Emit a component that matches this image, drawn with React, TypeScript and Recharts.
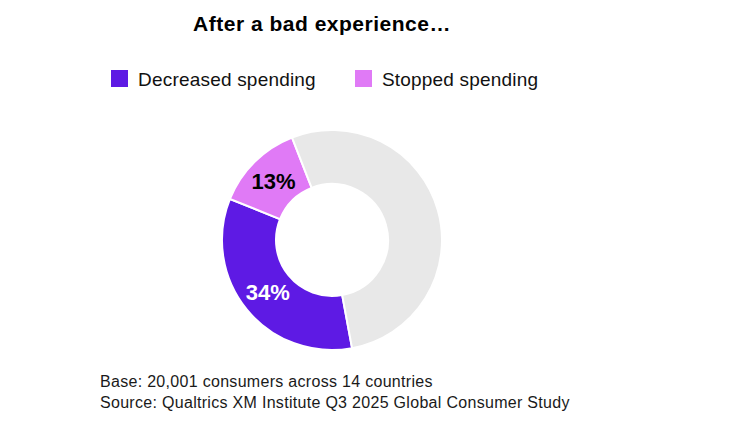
import { PieChart, Pie, Cell } from "recharts";

const categories = ["Decreased spending", "Stopped spending", "Other"];
const shares = [34, 13, 53];
const colors = ["#5e1ae4", "#e07af6", "#e8e8e8"];
const labelColors = ["#ffffff", "#000000", ""];
const legendItems = ["Decreased spending", "Stopped spending"];
const title = "After a bad experience…";
const notes = [
    "Base: 20,001 consumers across 14 countries",
    "Source: Qualtrics XM Institute Q3 2025 Global Consumer Study",
];

const data = categories.map((name, i) => ({ name, value: shares[i] }));

const FONT = '"Liberation Sans", Arial, Helvetica, sans-serif';
const RADIAN = Math.PI / 180;

function renderLabel(props: any) {
    const { cx, cy, midAngle, innerRadius, outerRadius, index, value } = props;
    if (!labelColors[index]) return null;
    const r = (innerRadius + outerRadius) / 2;
    const x = cx + r * Math.cos(-midAngle * RADIAN);
    const y = cy + r * Math.sin(-midAngle * RADIAN);
    return (
        <text
            x={x}
            y={y}
            fill={labelColors[index]}
            textAnchor="middle"
            dominantBaseline="central"
            fontFamily={FONT}
            fontWeight="bold"
            fontSize={22}
        >
            {value}%
        </text>
    );
}

export default function App() {
    return (
        <div
            style={{
                position: "absolute",
                left: 0,
                top: 0,
                width: 732,
                height: 428,
                background: "#fff",
                fontFamily: FONT,
                color: "#000",
            }}
        >
            <div
                style={{
                    position: "absolute",
                    left: 322,
                    top: 13,
                    transform: "translateX(-50%)",
                    whiteSpace: "nowrap",
                    fontSize: 21,
                    lineHeight: "21px",
                    fontWeight: "bold",
                    letterSpacing: 0.5,
                }}
            >
                {title}
            </div>

            <div
                style={{
                    position: "absolute",
                    left: 111,
                    top: 70,
                    display: "flex",
                    gap: 39,
                }}
            >
                {legendItems.map((name, i) => (
                    <div key={name} style={{ display: "flex", alignItems: "flex-start" }}>
                        <div
                            style={{
                                width: 17,
                                height: 17,
                                background: colors[i],
                                marginRight: 10,
                            }}
                        />
                        <div
                            style={{
                                fontSize: 19,
                                lineHeight: "19px",
                                letterSpacing: 0.2,
                                whiteSpace: "nowrap",
                                color: "#111",
                            }}
                        >
                            {name}
                        </div>
                    </div>
                ))}
            </div>

            <div style={{ position: "absolute", left: 0, top: 0 }}>
                <PieChart width={732} height={428} margin={{ top: 0, right: 0, bottom: 0, left: 0 }}>
                    <Pie
                        data={data}
                        dataKey="value"
                        nameKey="name"
                        cx={332}
                        cy={240}
                        innerRadius={56}
                        outerRadius={110}
                        startAngle={280.5}
                        endAngle={-79.5}
                        stroke="#ffffff"
                        strokeWidth={2}
                        label={renderLabel}
                        labelLine={false}
                        isAnimationActive={false}
                    >
                        {data.map((d, i) => (
                            <Cell key={d.name} fill={colors[i]} />
                        ))}
                    </Pie>
                </PieChart>
            </div>

            <div
                style={{
                    position: "absolute",
                    left: 100,
                    top: 372,
                    fontSize: 16,
                    lineHeight: "20.5px",
                    letterSpacing: 0.3,
                    color: "#1a1a1a",
                    whiteSpace: "nowrap",
                }}
            >
                {notes.map((n) => (
                    <div key={n}>{n}</div>
                ))}
            </div>
        </div>
    );
}
